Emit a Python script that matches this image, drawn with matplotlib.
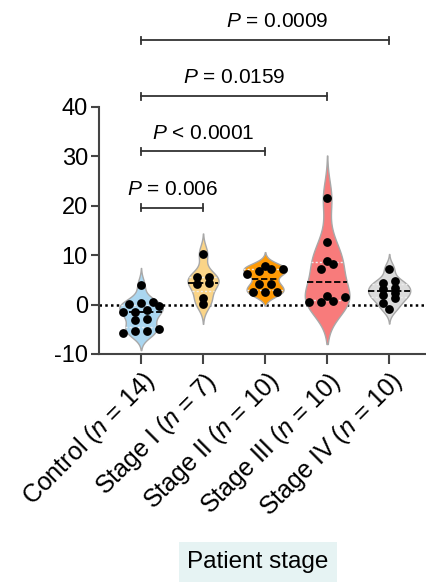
import numpy as np
import matplotlib
matplotlib.use('Agg')
import matplotlib.pyplot as plt

plt.rcParams['font.family'] = ['Liberation Sans', 'DejaVu Sans']
plt.rcParams['mathtext.fontset'] = 'custom'
plt.rcParams['mathtext.rm'] = 'Liberation Sans'
plt.rcParams['mathtext.it'] = 'Liberation Sans:italic'
plt.rcParams['axes.unicode_minus'] = False

# ---- data ----
categories = ['Control', 'Stage I', 'Stage II', 'Stage III', 'Stage IV']
counts = [14, 7, 10, 10, 10]
control = [3.9, 0.1, -0.3, 0.3, 0.5, -1.4, -1.4, -1.0, -3.2, -2.9, -4.9, -5.4, -5.7, -5.4]
stage1 = [10.3, 5.6, 5.6, 4.1, 4.4, 1.4, 0.2]
stage2 = [7.2, 6.9, 7.9, 7.2, 6.2, 2.5, 2.6, 2.5, 4.2, 4.2]
stage3 = [21.6, 12.7, 8.8, 8.3, 7.2, 1.8, 1.6, 0.6, 0.6, 0.75]
stage4 = [7.3, 4.4, 4.7, 3.4, 1.9, 3.2, 2.4, 1.4, 0.3, -0.9]
groups = [control, stage1, stage2, stage3, stage4]
yticks = [-10, 0, 10, 20, 30, 40]
comp_pairs = [(0, 1), (0, 2), (0, 3), (0, 4)]
comp_labels = [r'$P$ = 0.006', r'$P$ < 0.0001', r'$P$ = 0.0159', r'$P$ = 0.0009']

# ---- styles / layout ----
colors = ['#AAD6F0', '#FAD487', '#FF9A05', '#F87B7B', '#DCDCDC']
vwidths = [0.70, 0.50, 0.70, 0.72, 0.68]
bracket_y = [19.6, 31.0, 42.2, 53.5]
label_dx = [0.0, 0.0, 0.0, 0.2]

fig = plt.figure(figsize=(4.27, 5.84), dpi=100)
ax = fig.add_axes([99/427, 1-354/584, 1-99/427, (354-107)/584])
ax.set_xlim(-0.677, 4.61)
ax.set_ylim(-10, 40)

ax.axhline(0, color='black', lw=1.8, ls=(0, (1, 1.3)), zorder=1)

def kde(data, grid, bw):
    d = np.asarray(data)[:, None]
    return np.exp(-0.5 * ((grid[None, :] - d) / bw) ** 2).sum(axis=0)

def swarm_offsets(vals, step=0.19, thr=1.2):
    vals = np.asarray(vals)
    order = np.argsort(vals)
    offs = np.zeros(len(vals))
    i = 0
    while i < len(order):
        j = i
        while j + 1 < len(order) and vals[order[j + 1]] - vals[order[i]] < thr:
            j += 1
        n = j - i + 1
        for k in range(n):
            offs[order[i + k]] = (k - (n - 1) / 2) * step
        i = j + 1
    return offs

for i, vals in enumerate(groups):
    v = np.asarray(vals, dtype=float)
    bw = 0.5 * v.std(ddof=1)
    grid = np.linspace(v.min() - 2.5 * bw, v.max() + 2.5 * bw, 400)
    dens = kde(v, grid, bw)
    half = dens / dens.max() * vwidths[i] / 2
    ax.fill_betweenx(grid, i - half, i + half, facecolor=colors[i],
                     edgecolor='#A8A8A8', lw=1.0, zorder=2)
    q1, med, q3 = np.percentile(v, [25, 50, 75])
    for q, style in [(q1, 'q'), (q3, 'q'), (med, 'm')]:
        h = np.interp(q, grid, half)
        if style == 'm':
            ax.plot([i - h, i + h], [q, q], color='black', lw=1.3,
                    ls=(0, (3.5, 1.5)), zorder=3)
        else:
            ax.plot([i - h, i + h], [q, q], color='#EDEDED', lw=1.0,
                    ls=(0, (1.5, 1.5)), zorder=3)
    offs = swarm_offsets(v)
    ax.scatter(i + offs, v, s=40, color='black', zorder=4, linewidths=0)

for s in ['top', 'right']:
    ax.spines[s].set_visible(False)
for s in ['left', 'bottom']:
    ax.spines[s].set_color('#444444')
    ax.spines[s].set_linewidth(1.5)

ax.set_yticks(yticks)
ax.set_yticklabels([str(t) for t in yticks], fontsize=17)
ax.set_xticks(range(len(categories)))
ax.set_xticklabels([f'{c} ($n$ = {n})' for c, n in zip(categories, counts)],
                   fontsize=18, rotation=45, ha='right', va='top',
                   rotation_mode='anchor')
ax.tick_params(axis='y', length=6, width=1.5, color='#444444', pad=2)
ax.tick_params(axis='x', length=7, width=1.5, color='#444444', pad=3)

for (a, b), lab, y, dx in zip(comp_pairs, comp_labels, bracket_y, label_dx):
    ax.plot([a, b], [y, y], color='#333333', lw=1.3, clip_on=False, zorder=5)
    for xx in (a, b):
        ax.plot([xx, xx], [y - 0.7, y + 0.7], color='#333333', lw=1.3,
                clip_on=False, zorder=5)
    ax.text((a + b) / 2 + dx, y + 1.8, lab, ha='center', va='bottom',
            fontsize=15, clip_on=False)

fig.text(258/427, 1-562/584, 'Patient stage', ha='center', va='center',
         fontsize=17.5,
         bbox=dict(boxstyle='square,pad=0.35', facecolor='#E6F3F3',
                   edgecolor='none'))

fig.savefig('out.png', dpi=100)
